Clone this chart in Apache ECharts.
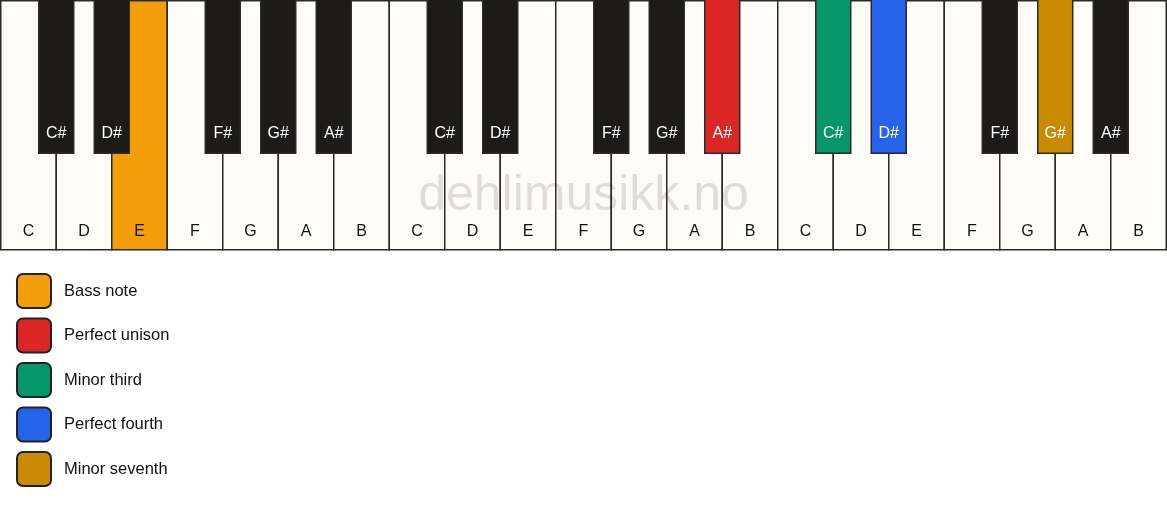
<!DOCTYPE html>
<html><head><meta charset="utf-8">
<script src="https://cdn.jsdelivr.net/npm/echarts@6/dist/echarts.min.js"></script>
<style>html,body{margin:0;padding:0;background:#fff}#c{width:1167px;height:506px}</style>
</head><body><div id="c"></div>
<script>
// ---- data ----
const octaves = 3;
const whiteNames = ['C','D','E','F','G','A','B'];
const blackNames = ['C#','D#','F#','G#','A#'];
const blackBoundaries = [1,2,4,5,6]; // boundary (in white-key units) each black key sits on
const legendNames = ['Bass note','Perfect unison','Minor third','Perfect fourth','Minor seventh'];
const legendColors = ['#F59E0B','#DC2626','#059669','#2563EB','#CA8A04'];
// highlighted keys: [octave, note name, legend index]
const highlightWhite = [[0,'E',0]];
const highlightBlack = [[1,'A#',1],[2,'C#',2],[2,'D#',3],[2,'G#',4]];
const watermark = 'dehlimusikk.no';

// ---- build ----
const whiteData = [];
for (let o=0;o<octaves;o++) whiteNames.forEach((n,i)=>{
  const h = highlightWhite.find(h=>h[0]===o&&h[1]===n);
  whiteData.push([o*7+i, n, h?h[2]:-1]);
});
const blackData = [];
for (let o=0;o<octaves;o++) blackNames.forEach((n,i)=>{
  const h = highlightBlack.find(h=>h[0]===o&&h[1]===n);
  blackData.push([o*7+blackBoundaries[i], n, h?h[2]:-1]);
});
const FONT = '"Liberation Sans", Arial, sans-serif';
const BLACK_W = 0.63, BLACK_BOTTOM = 1 - 153/250;

const chart = echarts.init(document.getElementById('c'), null, {renderer:'canvas'});
const series = [
  {
    type:'custom', name:'white', coordinateSystem:'cartesian2d', silent:true, z:2,
    data: whiteData,
    renderItem(params, api){
      const x = api.value(0), ci = api.value(2);
      const p0 = api.coord([x,1]), p1 = api.coord([x+1,0]);
      const name = whiteData[params.dataIndex][1];
      return {type:'group', children:[
        {type:'rect', shape:{x:p0[0],y:p0[1],width:p1[0]-p0[0],height:p1[1]-p0[1]},
         style:{fill: ci>=0?legendColors[ci]:'#FDFCF9', stroke:'#2a2a2a', lineWidth:1.5}},
        {type:'text', style:{text:name, x:(p0[0]+p1[0])/2, y:p1[1]-18.5, align:'center', verticalAlign:'middle',
          fill:'#111', font:'16px '+FONT}}
      ]};
    }
  },
  {
    type:'custom', name:'black', coordinateSystem:'cartesian2d', silent:true, z:4,
    data: blackData,
    renderItem(params, api){
      const x = api.value(0), ci = api.value(2);
      const p0 = api.coord([x-BLACK_W/2,1]), p1 = api.coord([x+BLACK_W/2,BLACK_BOTTOM]);
      const name = blackData[params.dataIndex][1];
      return {type:'group', children:[
        {type:'rect', shape:{x:p0[0],y:p0[1]-2,width:p1[0]-p0[0],height:p1[1]-p0[1]+2},
         style:{fill: ci>=0?legendColors[ci]:'#1C1B1A', stroke:'#2a2a2a', lineWidth:1.5}},
        {type:'text', style:{text:name, x:(p0[0]+p1[0])/2, y:p1[1]-19.5, align:'center', verticalAlign:'middle',
          fill:'#fff', font:'16px '+FONT}}
      ]};
    }
  }
];
legendNames.forEach((n,i)=>series.push({type:'line', name:n, data:[], itemStyle:{color:legendColors[i], borderColor:'#222', borderWidth:1.5}, lineStyle:{color:legendColors[i]}}));

chart.setOption({
  animation:false,
  backgroundColor:'#fff',
  grid:{left:0.75, right:0.75, top:0.75, height:249},
  xAxis:{type:'value', min:0, max:whiteData.length, show:false},
  yAxis:{type:'value', min:0, max:1, show:false},
  legend:{
    orient:'vertical', left:16, top:273, padding:0, itemGap:8.5,
    itemWidth:34, itemHeight:34, icon:'path://M6,0 H28 A6,6 0 0 1 34,6 V28 A6,6 0 0 1 28,34 H6 A6,6 0 0 1 0,28 V6 A6,6 0 0 1 6,0 Z',
    selectedMode:false,
    textStyle:{fontSize:16.5, color:'#111', fontFamily:FONT, padding:[0,0,0,8]},
    data: legendNames
  },
  graphic:[{type:'text', left:'center', top:171, z:10, silent:true,
    style:{text:watermark, font:'50px '+FONT, fill:'rgba(0,0,0,0.12)'}}],
  series
});
</script></body></html>
